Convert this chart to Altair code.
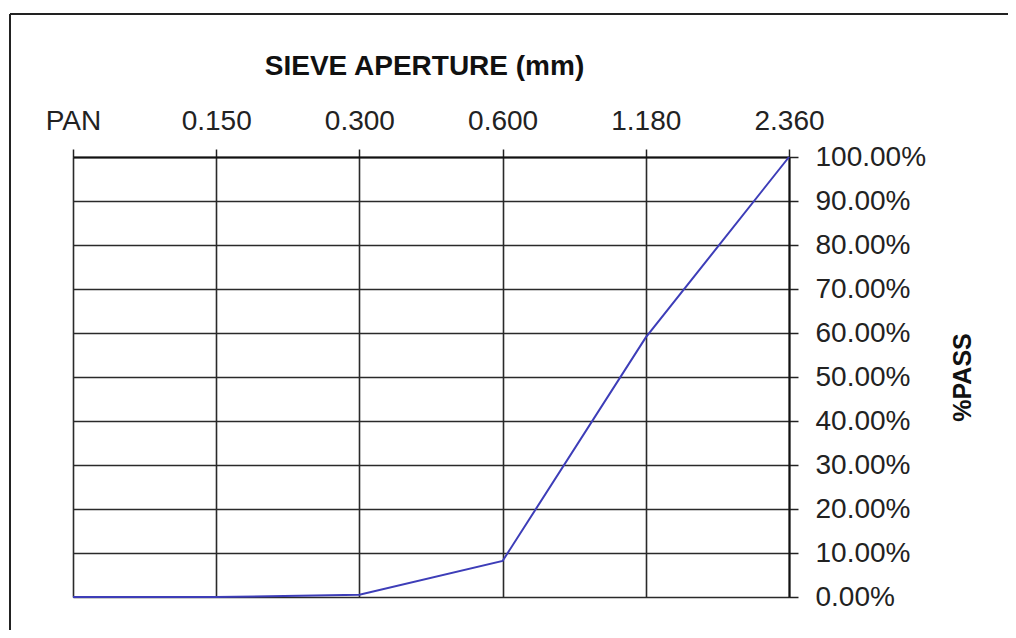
import altair as alt
import pandas as pd

sieves = ["PAN", "0.150", "0.300", "0.600", "1.180", "2.360"]
pass_pct = [0.0, 0.0, 0.005, 0.082, 0.59, 1.0]

df = pd.DataFrame({"sieve": sieves, "pass": pass_pct})

FONT = "Liberation Sans"

line = alt.Chart(df).mark_line(color="#3d3db8", strokeWidth=2, clip=False).encode(
    x=alt.X(
        "sieve:N",
        sort=sieves,
        scale=alt.Scale(type="point", padding=0),
        axis=alt.Axis(
            orient="top",
            title="SIEVE APERTURE (mm)",
            titleFont=FONT,
            titleFontSize=28,
            titleFontWeight="bold",
            titleColor="#111",
            titleX=351,
            titleY=-83,
            titleBaseline="alphabetic",
            labelFont=FONT,
            labelFontSize=28,
            labelColor="#222",
            labelAngle=0,
            labelPadding=14,
            tickSize=8,
            tickColor="#222",
            tickWidth=1.5,
            domainColor="#111",
            domainWidth=2,
            grid=True,
            gridColor="#2a2a2a",
            gridWidth=1.6,
            gridOpacity=1,
        ),
    ),
    y=alt.Y(
        "pass:Q",
        scale=alt.Scale(domain=[0, 1], nice=False),
        axis=alt.Axis(
            orient="right",
            title="%PASS",
            titleFont=FONT,
            titleFontSize=25,
            titleFontWeight="bold",
            titleColor="#111",
            titleAngle=270,
            titleX=173,
            titleY=220,
            titleBaseline="middle",
            titleAlign="center",
            format=".2%",
            values=[i / 10 for i in range(11)],
            labelFont=FONT,
            labelFontSize=28,
            labelColor="#222",
            labelPadding=17,
            tickSize=9,
            tickColor="#222",
            tickWidth=1.5,
            domainColor="#111",
            domainWidth=2,
            grid=True,
            gridColor="#2a2a2a",
            gridWidth=1.6,
            gridOpacity=1,
        ),
    ),
)

frame_top = alt.Chart(df).mark_rule(
    stroke="#222", strokeWidth=2, clip=False
).encode(
    x=alt.value(-63), x2=alt.value(935), y=alt.value(-143)
).transform_filter(alt.datum.sieve == "PAN")

frame_left = alt.Chart(df).mark_rule(
    stroke="#222", strokeWidth=2, clip=False
).encode(
    x=alt.value(-63), y=alt.value(-143), y2=alt.value(473)
).transform_filter(alt.datum.sieve == "PAN")

chart = alt.layer(frame_top, frame_left, line).properties(
    width=716,
    height=440,
    autosize=alt.AutoSizeParams(type="none"),
    padding={"left": 65, "top": 149, "right": 219, "bottom": 33},
).configure_view(stroke="#111", strokeWidth=2).configure(background="white")

chart.save("out.html", embed_options={"renderer": "svg", "actions": False})
